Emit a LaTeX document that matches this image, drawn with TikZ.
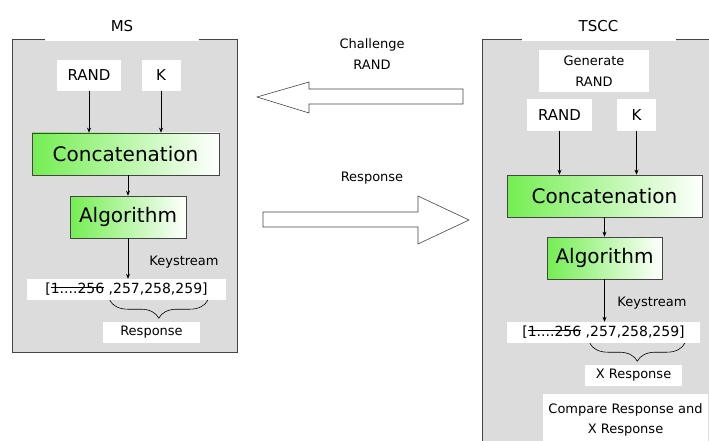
\documentclass[tikz,border=0pt]{standalone}
\usepackage{fontspec}
\setmainfont{DejaVu Sans}
\usepackage{tikz}
\usetikzlibrary{positioning, arrows.meta, calc, decorations.pathreplacing}
\definecolor{panelgris}{HTML}{DCDCDC}
\definecolor{bordegris}{HTML}{454545}
\definecolor{verdeclaro}{HTML}{74EE52}
\newcommand{\tachado}[1]{\setbox0\hbox{#1}\rlap{\rule[0.42em]{\wd0}{0.6pt}}\box0}

\begin{document}
\begin{tikzpicture}[x=1pt, y=-1pt,
    every node/.style={font=\fontsize{13}{16}\selectfont, inner sep=0pt},
    panel/.style={fill=panelgris, draw=bordegris, line width=0.8pt},
    ttl/.style={fill=white, minimum width=154, minimum height=30, font=\fontsize{15}{18}\selectfont},
    wbox/.style={fill=white, minimum height=31, font=\fontsize{15}{18}\selectfont},
    gbox/.style={draw=bordegris, line width=0.6pt, left color=verdeclaro, right color=white,
        minimum height=42, font=\fontsize{20}{24}\selectfont},
    kbox/.style={fill=white, minimum height=21, font=\fontsize{14}{16}\selectfont},
    lbox/.style={fill=white, minimum height=21},
    flecha/.style={-{Stealth[length=5pt, width=4pt]}, line width=0.6pt},
    llave/.style={decorate, decoration={brace, mirror, amplitude=18pt}, line width=0.6pt},
    bloque/.style={fill=white, draw=bordegris, line width=0.6pt}
]
\path[use as bounding box] (0,0) rectangle (709,441);
\clip (0,0) rectangle (709,441);

% MS
\draw[panel] (12,39) rectangle (237,352);
\node[ttl] (mstitle) at (122,26) {MS};
\node[wbox, minimum width=64] (msrand) at (89,75.5) {RAND};
\node[wbox, minimum width=39] (msk) at (161,75.5) {K};
\node[gbox, minimum width=187] (msconcat) at (125.5,154) {Concatenation};
\node[gbox, minimum width=116] (msalg) at (128,217) {Algorithm};
\node[kbox, minimum width=199] (mskeys) at (126.5,289.5) {[\tachado{1....256}~,257,258,259]};
\node[lbox, minimum width=97] (msresp) at (151.5,332.5) {Response};
\node (mskeylbl) at (184,262) {Keystream};

\draw[flecha] (msrand) -- (msrand |- msconcat.north);
\draw[flecha] (msk) -- (msk |- msconcat.north);
\draw[flecha] (msalg.north |- msconcat.south) -- (msalg.north);
\draw[flecha] (msalg) -- (msalg |- mskeys.north);
\draw[llave] ($(mskeys.south west)+(83,0)$) -- ($(mskeys.south west)+(181,0)$);

% TSCC
\draw[panel] (482,39) rectangle (720,460);
\node[ttl] (tstitle) at (598.5,26) {TSCC};
\node[lbox, minimum width=110, minimum height=42, align=center,
    font=\fontsize{13}{21}\selectfont] (tsgen) at (594,71) {Generate\\RAND};
\node[wbox, minimum width=65, minimum height=32] (tsrand) at (559.5,115) {RAND};
\node[wbox, minimum width=39, minimum height=32] (tsk) at (636.5,115) {K};
\node[gbox, minimum width=195] (tsconcat) at (604.5,196) {Concatenation};
\node[gbox, minimum width=115] (tsalg) at (604.5,258) {Algorithm};
\node[kbox, minimum width=193] (tskeys) at (603.5,332.5) {[\tachado{1....256}~,257,258,259]};
\node[lbox, minimum width=97] (tsxresp) at (633.5,375) {X Response};
\node[lbox, minimum width=165, minimum height=52, align=center,
    font=\fontsize{13}{20}\selectfont] (tscomp) at (625.5,420) {Compare Response and\\X Response};
\node (tskeylbl) at (652,303) {Keystream};

\draw[flecha] (tsrand) -- (tsrand |- tsconcat.north);
\draw[flecha] (tsk) -- (tsk |- tsconcat.north);
\draw[flecha] (tsconcat) -- (tsalg);
\draw[flecha] (tsalg) -- (tsalg |- tskeys.north);
\draw[llave] ($(tskeys.south west)+(83,0)$) -- ($(tskeys.south west)+(178,0)$);

% mensajes
\draw[bloque] (463,89) -- (309,89) -- (309,82) -- (257,97) -- (309,113) -- (309,104) -- (463,104) -- cycle;
\node[align=center, font=\fontsize{13}{21}\selectfont] (challenge) at (372,54) {Challenge\\RAND};
\draw[bloque] (263,212) -- (418,212) -- (418,196) -- (469,220) -- (418,244) -- (418,227) -- (263,227) -- cycle;
\node (response) at (372,178) {Response};
\end{tikzpicture}
\end{document}
